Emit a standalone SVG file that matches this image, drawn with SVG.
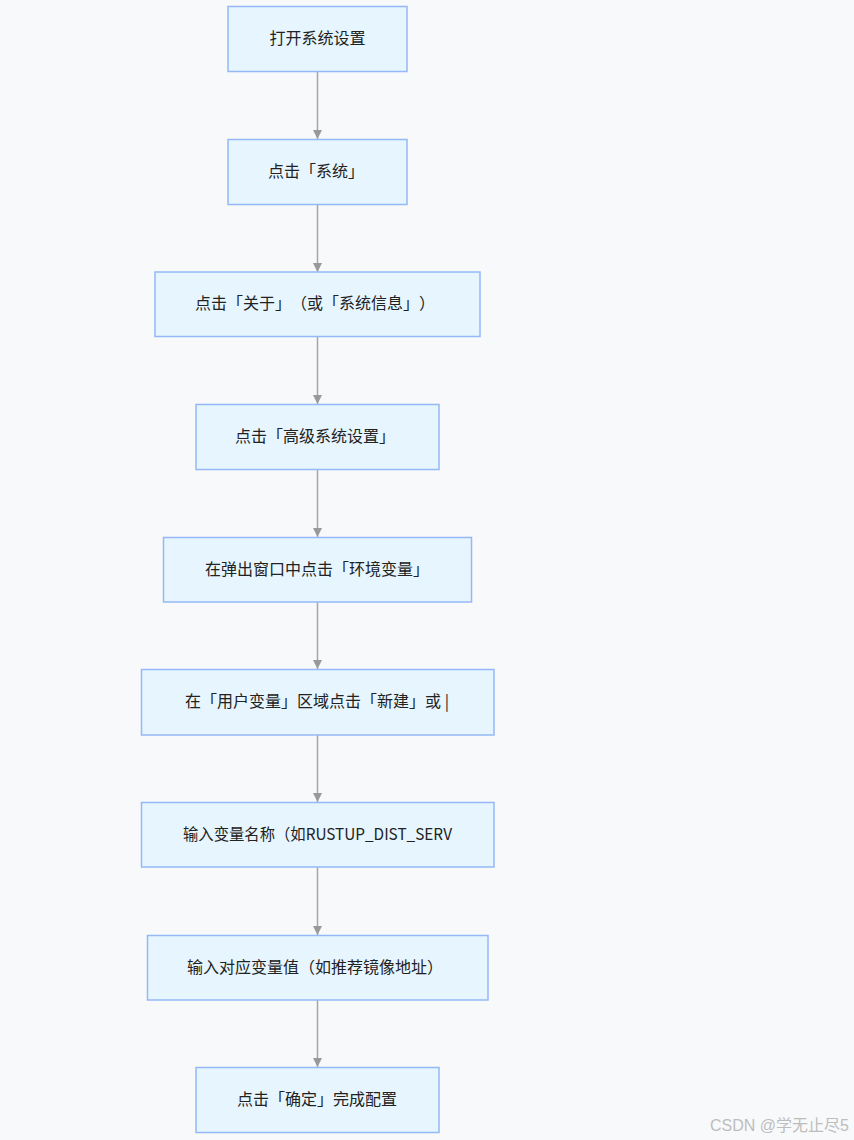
<svg xmlns="http://www.w3.org/2000/svg" width="854" height="1140" viewBox="0 0 854 1140">
<style>
.box{fill:#e6f5fe;stroke:#94b9f6;stroke-width:1.5}
.lbl{font-family:"Noto Sans CJK SC","Liberation Sans",sans-serif;font-size:16px;fill:#222;text-anchor:middle;dominant-baseline:central;text-spacing-trim:space-all}
.edge{stroke:#a6a6a6;stroke-width:1.5;fill:none;marker-end:url(#arr)}
.wm{font-family:"Liberation Sans","Noto Sans CJK SC",sans-serif;font-size:16px;fill:#bdbdbd}
</style>
<defs>
<marker id="arr" viewBox="0 0 10 10" refX="10" refY="5" markerWidth="9" markerHeight="9" markerUnits="userSpaceOnUse" orient="auto">
<path d="M0,0 L10,5 L0,10 z" fill="#999"/>
</marker>
</defs>
<rect width="854" height="1140" fill="#f8f9fb"/>
<g id="connectors">
<line class="edge" x1="317.5" y1="71" x2="317.5" y2="139"/>
<line class="edge" x1="317.5" y1="204" x2="317.5" y2="272"/>
<line class="edge" x1="317.5" y1="336" x2="317.5" y2="404"/>
<line class="edge" x1="317.5" y1="469" x2="317.5" y2="537"/>
<line class="edge" x1="317.5" y1="602" x2="317.5" y2="669"/>
<line class="edge" x1="317.5" y1="735" x2="317.5" y2="802"/>
<line class="edge" x1="317.5" y1="867" x2="317.5" y2="935"/>
<line class="edge" x1="317.5" y1="1000" x2="317.5" y2="1067"/>
</g>
<g id="n1"><rect class="box" x="228" y="6.5" width="179" height="65"/><text class="lbl" x="317.5" y="37">打开系统设置</text></g>
<g id="n2"><rect class="box" x="228" y="139.5" width="179" height="65"/><text class="lbl" x="316" y="170">点击「系统」</text></g>
<g id="n3"><rect class="box" x="155" y="272" width="325" height="64.5"/><text class="lbl" x="315" y="302">点击「关于」（或「系统信息」）</text></g>
<g id="n4"><rect class="box" x="196" y="404.5" width="243" height="65"/><text class="lbl" x="315" y="435">点击「高级系统设置」</text></g>
<g id="n5"><rect class="box" x="163.5" y="537.5" width="308" height="64.5"/><text class="lbl" x="317" y="568">在弹出窗口中点击「环境变量」</text></g>
<g id="n6"><rect class="box" x="141.5" y="669.5" width="352.5" height="65.5"/><text class="lbl" x="317" y="700">在「用户变量」区域点击「新建」或 |</text></g>
<g id="n7"><rect class="box" x="141.5" y="802.5" width="352.5" height="64.5"/><text class="lbl" x="317.5" y="833" textLength="269" lengthAdjust="spacingAndGlyphs">输入变量名称（如RUSTUP_DIST_SERV</text></g>
<g id="n8"><rect class="box" x="147.5" y="935.5" width="340.5" height="64.5"/><text class="lbl" x="315" y="966">输入对应变量值（如推荐镜像地址）</text></g>
<g id="n9"><rect class="box" x="196" y="1067.5" width="243" height="65"/><text class="lbl" x="317" y="1098">点击「确定」完成配置</text></g>
<text class="wm" x="710" y="1131">CSDN @学无止尽5</text>
</svg>
